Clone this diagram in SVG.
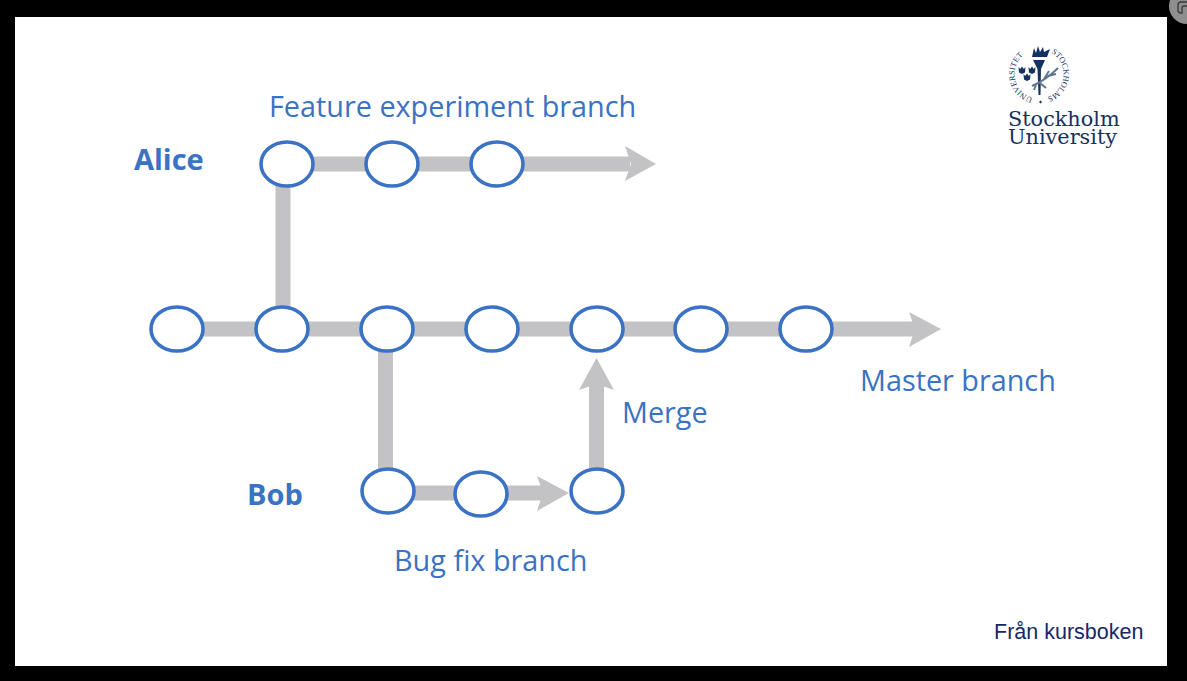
<svg xmlns="http://www.w3.org/2000/svg" width="1187" height="681" viewBox="0 0 1187 681">
<style>
.n{fill:#fff;stroke:#3a72c4;stroke-width:3.6}
.c{fill:none;stroke:#c3c3c5;stroke-width:15}
.h{fill:#c3c3c5;stroke:none}
.t{font-family:"Open Sans","Noto Sans",sans-serif;fill:#3a72c4;font-size:28.8px}
.b{font-weight:700;font-size:29px}
.s{font-family:"DejaVu Serif","Liberation Serif",serif;fill:#14315f;font-size:20.8px}
.r{font-family:"Liberation Serif",serif;fill:#14315f;font-size:8.2px}
.lg{fill:#14315f}
</style>
<defs>
<path id="ringL" d="M1032.700 97.700A24.500 24.500 0 0 1 1026.750 52.800"/>
<path id="ringR" d="M1051.250 52.800A24.500 24.500 0 0 1 1045.300 97.700"/>
<g id="crown"><path class="lg" d="M-3.500 -3L-1.800 -1L0 -3.500L1.800 -1L3.500 -3L3 2.500L0 4L-3 2.500Z"/></g>
</defs>
<rect width="1187" height="681" fill="#000"/>
<rect x="15" y="17" width="1152" height="649" fill="#fff"/>
<circle cx="1187" cy="6" r="18" fill="#8e8e8e"/>
<path d="M1187 2h-6a3 3 0 0 0-3 3v5a3 3 0 0 0 3 3M1187 6h-3a2 2 0 0 0-2 2v6" fill="none" stroke="#3c3c3c" stroke-width="1.400"/>
<g id="connectors">
<path class="c" d="M283 329V164H630"/>
<path class="h" d="M625 146L656 164L625 181L631 164Z"/>
<path class="c" d="M177 329H915"/>
<path class="h" d="M909 312L941 329L909 347L915 329Z"/>
<path class="c" d="M385.500 329V493H545"/>
<path class="h" d="M537 476L569 493L537 511L543 493Z"/>
<path class="c" d="M596.500 491V380"/>
<path class="h" d="M579 390L596.500 358L614 390L596.500 384Z"/>
</g>
<g id="n1"><ellipse class="n" cx="287" cy="164" rx="26" ry="22"/></g>
<g id="n2"><ellipse class="n" cx="392" cy="164" rx="26" ry="22"/></g>
<g id="n3"><ellipse class="n" cx="497" cy="164" rx="26" ry="22"/></g>
<g id="m1"><ellipse class="n" cx="177" cy="329" rx="26" ry="22"/></g>
<g id="m2"><ellipse class="n" cx="282" cy="329" rx="26" ry="22"/></g>
<g id="m3"><ellipse class="n" cx="387" cy="329" rx="26" ry="22"/></g>
<g id="m4"><ellipse class="n" cx="492" cy="329" rx="26" ry="22"/></g>
<g id="m5"><ellipse class="n" cx="597" cy="329" rx="26" ry="22"/></g>
<g id="m6"><ellipse class="n" cx="701" cy="329" rx="26" ry="22"/></g>
<g id="m7"><ellipse class="n" cx="806" cy="329" rx="26" ry="22"/></g>
<g id="b1"><ellipse class="n" cx="388" cy="491" rx="26" ry="22"/></g>
<g id="b2"><ellipse class="n" cx="481" cy="494" rx="26" ry="22"/></g>
<g id="b3"><ellipse class="n" cx="597" cy="491" rx="26" ry="22"/></g>
<g id="labels">
<text class="t" x="269" y="117">Feature experiment branch</text>
<text class="t b" x="134" y="170">Alice</text>
<text class="t" x="860" y="391">Master branch</text>
<text class="t" x="622" y="423">Merge</text>
<text class="t b" x="247" y="505">Bob</text>
<text class="t" x="394" y="571">Bug fix branch</text>
<text x="994" y="639" font-family="Liberation Sans,Arial,sans-serif" font-size="21.500" fill="#12296b">Från kursboken</text>
</g>
<g id="logo">
<text class="r"><textPath href="#ringL">UNIVERSITET</textPath></text>
<text class="r"><textPath href="#ringR">STOCKHOLMS</textPath></text>
<path class="lg" d="M1033 60L1045 60L1041 69L1040.500 95H1038.500L1037.500 69Z"/>
<path class="lg" d="M1032 57L1034 48L1036 53L1038 46L1040 52L1043 47L1044 52L1050 49L1047 57Z"/>
<use href="#crown" x="1022" y="70"/><use href="#crown" x="1032" y="70"/><use href="#crown" x="1027" y="77"/>
<path d="M1032 86Q1046 80 1058 68M1044 79L1049 71M1048 76L1056 74M1040 83L1046 88M1036 85L1034 90" fill="none" stroke="#5f7596" stroke-width="2"/>
<path class="lg" d="M1039 102l1.500-1.500 1.500 1.500-1.500 1.500z"/>
<text class="s"><tspan x="1008" y="125.500">Stockholm</tspan><tspan x="1008" y="144">University</tspan></text>
</g>
</svg>
